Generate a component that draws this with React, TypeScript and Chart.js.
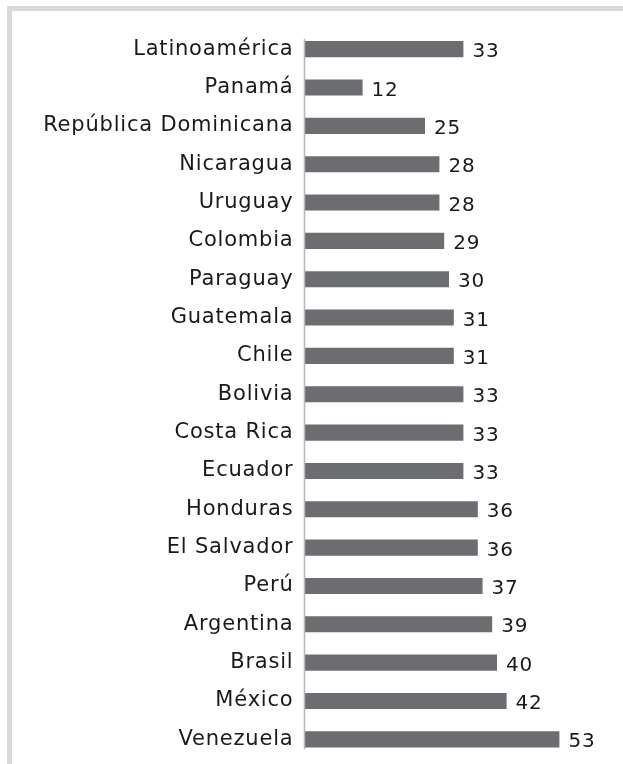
import React, { useEffect, useRef } from "react";
import { Chart, registerables } from "chart.js";

Chart.register(...registerables);

const categories = [
  "Latinoamérica",
  "Panamá",
  "República Dominicana",
  "Nicaragua",
  "Uruguay",
  "Colombia",
  "Paraguay",
  "Guatemala",
  "Chile",
  "Bolivia",
  "Costa Rica",
  "Ecuador",
  "Honduras",
  "El Salvador",
  "Perú",
  "Argentina",
  "Brasil",
  "México",
  "Venezuela",
];

const values = [33, 12, 25, 28, 28, 29, 30, 31, 31, 33, 33, 33, 36, 36, 37, 39, 40, 42, 53];

const FONT = "'DejaVu Sans', sans-serif";
const SPACING = "0.8px";

export default function App() {
  const ref = useRef<HTMLCanvasElement | null>(null);

  useEffect(() => {
    const canvas = ref.current;
    if (!canvas) return;

    const spacing = {
      id: "spacing",
      beforeDraw(chart: any) {
        (chart.ctx as any).letterSpacing = SPACING;
      },
    };

    const valueLabels = {
      id: "valueLabels",
      afterDatasetsDraw(chart: any) {
        const ctx = chart.ctx;
        const meta = chart.getDatasetMeta(0);
        ctx.save();
        (ctx as any).letterSpacing = SPACING;
        ctx.font = `20px ${FONT}`;
        ctx.fillStyle = "#1a1a1a";
        ctx.textAlign = "left";
        ctx.textBaseline = "alphabetic";
        meta.data.forEach((bar: any, i: number) => {
          ctx.fillText(String(values[i]), bar.x + 9, bar.y + 8);
        });
        ctx.restore();
      },
    };

    const axisLine = {
      id: "axisLine",
      afterDatasetsDraw(chart: any) {
        const y = chart.scales.y;
        const ctx = chart.ctx;
        const x0 = chart.chartArea.left - 0.5;
        const top = y.getPixelForValue(0) - 10.5;
        const bottom = y.getPixelForValue(categories.length - 1) + 10;
        ctx.save();
        ctx.strokeStyle = "#b8b8b8";
        ctx.lineWidth = 1.5;
        ctx.beginPath();
        ctx.moveTo(x0, top);
        ctx.lineTo(x0, bottom);
        ctx.stroke();
        ctx.restore();
      },
    };

    const chart = new Chart(canvas, {
      type: "bar",
      data: {
        labels: categories,
        datasets: [
          {
            data: values,
            backgroundColor: "#6c6d71",
            borderWidth: 0,
            categoryPercentage: 1,
            barPercentage: 0.42,
          },
        ],
      },
      options: {
        indexAxis: "y",
        responsive: false,
        animation: false,
        layout: { padding: { top: 30, bottom: 5.5, left: 0, right: 30 } },
        plugins: {
          legend: { display: false },
          tooltip: { enabled: false },
        },
        scales: {
          x: {
            display: false,
            min: 0,
            max: 60,
          },
          y: {
            border: { display: false },
            grid: { display: false },
            ticks: {
              color: "#1a1a1a",
              font: { family: FONT, size: 21 },
              padding: 3.5,
              autoSkip: false,
            },
            afterFit: (scale: any) => {
              scale.width = 305;
              scale.paddingTop = 0;
              scale.paddingBottom = 0;
            },
          },
        },
      },
      plugins: [spacing, valueLabels, axisLine],
    });

    return () => chart.destroy();
  }, []);

  return (
    <div style={{ position: "absolute", left: 0, top: 0, width: 623, height: 764, background: "#fff" }}>
      <div
        style={{
          position: "absolute",
          left: 7,
          top: 6,
          right: 0,
          bottom: 0,
          borderTop: "5px solid #d9d9d9",
          borderLeft: "5px solid #d9d9d9",
        }}
      />
      <canvas
        ref={ref}
        width={623}
        height={764}
        style={{ position: "absolute", left: 0, top: 0, width: 623, height: 764 }}
      />
    </div>
  );
}
